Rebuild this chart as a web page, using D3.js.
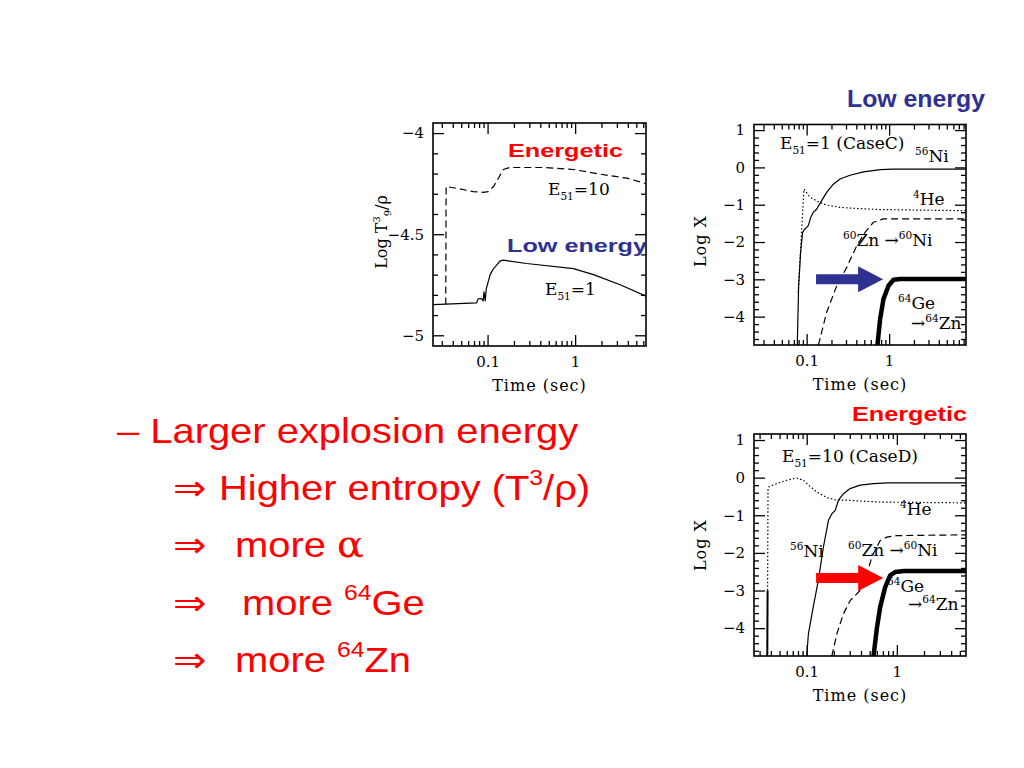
<!DOCTYPE html>
<html><head><meta charset="utf-8">
<script src="https://cdn.jsdelivr.net/npm/d3@7"></script>
<style>body{margin:0;background:#fff}</style>
</head><body><svg id="c" width="1024" height="768"></svg>
<script>
// ---------- tick data ----------
const xMajorTicks = [0.1, 1];
const xMajorLabels = ["0.1", "1"];
const xMinorTicks = [0.02,0.03,0.04,0.05,0.06,0.07,0.08,0.09,0.2,0.3,0.4,0.5,0.6,0.7,0.8,0.9,2,3,4,5,6,7,8,9];
const entropyYMajor = [-5, -4.5, -4];
const entropyYLabels = ["\u22125", "\u22124.5", "\u22124"];
const entropyYMinor = [-4.9,-4.8,-4.7,-4.6,-4.4,-4.3,-4.2,-4.1];
const abundYMajor = [-4, -3, -2, -1, 0, 1];
const abundYLabels = ["\u22124", "\u22123", "\u22122", "\u22121", "0", "1"];
const abundYMinor = [-4.6,-4.4,-4.2,-3.8,-3.6,-3.4,-3.2,-2.8,-2.6,-2.4,-2.2,-1.8,-1.6,-1.4,-1.2,-0.8,-0.6,-0.4,-0.2,0.2,0.4,0.6,0.8];

// ---------- series: [time (s), value] ----------
const entropyE10 = [[0.0333,-4.848],[0.0336,-4.264],[0.048,-4.276],[0.0685,-4.289],[0.089,-4.293],[0.102,-4.289],[0.117,-4.264],[0.133,-4.223],[0.151,-4.18],[0.18,-4.17],[0.434,-4.17],[0.957,-4.18],[1.93,-4.203],[3.9,-4.223],[6.45,-4.25]];
const entropyE1 = [[0.0238,-4.848],[0.0748,-4.84],[0.078,-4.82],[0.085,-4.818],[0.089,-4.83],[0.091,-4.785],[0.094,-4.83],[0.0966,-4.77],[0.107,-4.70],[0.117,-4.67],[0.127,-4.653],[0.138,-4.633],[0.151,-4.628],[0.279,-4.645],[0.957,-4.67],[1.62,-4.70],[3.27,-4.75],[6.45,-4.807]];

const caseC_Ni56 = [[0.077,-4.76],[0.080,-3.17],[0.0845,-2.28],[0.0893,-1.74],[0.0954,-1.65],[0.1047,-1.56],[0.112,-1.34],[0.1205,-1.2],[0.132,-1.12],[0.152,-0.89],[0.175,-0.67],[0.211,-0.45],[0.254,-0.31],[0.336,-0.21],[0.488,-0.12],[0.778,-0.06],[1.13,-0.045],[8.55,-0.045]];
const caseC_He4 = [[0.079,-3.35],[0.0928,-0.58],[0.11,-0.80],[0.145,-0.94],[0.175,-1.01],[0.254,-1.07],[0.405,-1.1],[0.778,-1.13],[8.55,-1.16]];
const caseC_Zn60 = [[0.139,-4.76],[0.175,-3.88],[0.232,-3.17],[0.306,-2.68],[0.405,-2.1],[0.511,-1.74],[0.645,-1.47],[0.853,-1.38],[8.55,-1.38]];
const caseC_Ge64 = [[0.722,-4.76],[0.778,-4.06],[0.854,-3.53],[0.982,-3.17],[1.13,-3.01],[1.36,-2.99],[8.55,-2.99]];

const caseD_HeEarly = [[0.0365,-4.74],[0.0368,-3.0]];
const caseD_He4 = [[0.0368,-3.0],[0.0372,-0.3],[0.0375,-0.25],[0.0464,-0.16],[0.0599,-0.07],[0.0774,-0.01],[0.0919,-0.07],[0.105,-0.2],[0.129,-0.38],[0.167,-0.53],[0.216,-0.6],[0.278,-0.6],[0.653,-0.65],[5.85,-0.67]];
const caseD_Ni56 = [[0.1,-4.74],[0.1044,-4.15],[0.118,-3.44],[0.1345,-2.73],[0.153,-1.85],[0.174,-1.14],[0.19,-0.96],[0.207,-0.87],[0.225,-0.6],[0.255,-0.43],[0.303,-0.29],[0.391,-0.2],[0.551,-0.16],[0.8,-0.14],[5.85,-0.14]];
const caseD_Zn60 = [[0.19,-4.74],[0.216,-4.15],[0.255,-3.62],[0.303,-3.27],[0.391,-3.0],[0.445,-2.73],[0.527,-2.11],[0.575,-1.93],[0.653,-1.67],[0.774,-1.58],[1.0,-1.54],[5.85,-1.52]];
const caseD_Ge64 = [[0.551,-4.74],[0.6,-4.0],[0.653,-3.44],[0.742,-2.91],[0.843,-2.6],[0.958,-2.51],[1.2,-2.48],[5.85,-2.48]];

const arrowCaseC = [[0.13,-3.0],[0.845,-3.0]];
const arrowCaseD = [[0.127,-2.67],[0.705,-2.67]];

// ---------- drawing ----------
const svg = d3.select("#c");
svg.append("rect").attr("width",1024).attr("height",768).attr("fill","#fff");
const SERIF = "DejaVu Serif, Liberation Serif, serif";
const SANS = "Liberation Sans, Arial, sans-serif";
const RED = "#f00", BLUE = "#2e3192";
const LF = 17;

function rich(sel, x, y, parts, size, family, fill, extra) {
  const t = sel.append("text").attr("x",x).attr("y",y).attr("font-size",size)
    .attr("font-family",family).attr("fill",fill||"#000");
  if (extra) extra(t);
  let cur = 0;
  parts.forEach(([s,type]) => {
    const off = type==="sup" ? -0.42*size : type==="sub" ? 0.28*size : 0;
    const ts = t.append("tspan").text(s).attr("dy", off-cur);
    if (type!=="n") ts.attr("font-size", size*0.62);
    cur = off;
  });
  return t;
}

function panel(box, xDom, yDom, yMajor, yLabels, yMinor, series, id) {
  const g = svg.append("g");
  const x = d3.scaleLog().domain(xDom).range([box.l, box.r]);
  const y = d3.scaleLinear().domain(yDom).range([box.b, box.t]);
  const xm = xMinorTicks.filter(v => v>xDom[0] && v<xDom[1]);
  const style = s => { s.select(".domain").remove(); s.selectAll("line").attr("stroke","#000").attr("stroke-width",1.3);
    s.selectAll("text").attr("font-family",SERIF).attr("font-size",15).attr("fill","#000"); };
  g.append("g").attr("transform",`translate(0,${box.b})`).call(d3.axisBottom(x).tickValues(xMajorTicks).tickFormat((d,i)=>xMajorLabels[i]).tickSize(-11).tickPadding(10)).call(style);
  g.append("g").attr("transform",`translate(0,${box.b})`).call(d3.axisBottom(x).tickValues(xm).tickFormat("").tickSize(-5)).call(style);
  g.append("g").attr("transform",`translate(0,${box.t})`).call(d3.axisTop(x).tickValues(xMajorTicks).tickFormat("").tickSize(-11)).call(style);
  g.append("g").attr("transform",`translate(0,${box.t})`).call(d3.axisTop(x).tickValues(xm).tickFormat("").tickSize(-5)).call(style);
  g.append("g").attr("transform",`translate(${box.l},0)`).call(d3.axisLeft(y).tickValues(yMajor).tickFormat((d,i)=>yLabels[i]).tickSize(-11).tickPadding(9)).call(style);
  g.append("g").attr("transform",`translate(${box.l},0)`).call(d3.axisLeft(y).tickValues(yMinor).tickFormat("").tickSize(-5)).call(style);
  g.append("g").attr("transform",`translate(${box.r},0)`).call(d3.axisRight(y).tickValues(yMajor).tickFormat("").tickSize(-11)).call(style);
  g.append("g").attr("transform",`translate(${box.r},0)`).call(d3.axisRight(y).tickValues(yMinor).tickFormat("").tickSize(-5)).call(style);
  svg.append("clipPath").attr("id",id).append("rect").attr("x",box.l).attr("y",box.t).attr("width",box.r-box.l).attr("height",box.b-box.t);
  const line = d3.line().x(d=>x(d[0])).y(d=>y(d[1]));
  const lg = g.append("g").attr("clip-path",`url(#${id})`);
  series.forEach(s => {
    lg.append("path").datum(s.data).attr("d",line).attr("fill","none").attr("stroke","#000")
      .attr("stroke-width",s.w||1.2).attr("stroke-dasharray",s.dash||null).attr("stroke-linejoin","round");
  });
  g.append("rect").attr("x",box.l).attr("y",box.t).attr("width",box.r-box.l).attr("height",box.b-box.t)
    .attr("fill","none").attr("stroke","#000").attr("stroke-width",1.6);
  g.append("text").attr("x",(box.l+box.r)/2).attr("y",box.b+45).attr("text-anchor","middle")
    .attr("font-family",SERIF).attr("font-size",16).attr("letter-spacing",1).text("Time (sec)");
  return {g,x,y};
}

function arrow(g, x, y, pts, color) {
  const x0 = x(pts[0][0]), x1 = x(pts[1][0]), yc = y(pts[0][1]);
  const hb = x1 - 25;
  const p = d3.path();
  p.moveTo(x0, yc-5); p.lineTo(hb, yc-5); p.lineTo(hb, yc-13); p.lineTo(x1, yc);
  p.lineTo(hb, yc+13); p.lineTo(hb, yc+5); p.lineTo(x0, yc+5); p.closePath();
  g.append("path").attr("d",p.toString()).attr("fill",color);
}

// Panel 1: entropy
const P1 = panel({l:433,r:646,t:123,b:346},[0.0238,6.45],[-5.053,-3.95],entropyYMajor,entropyYLabels,entropyYMinor,
  [{data:entropyE1},{data:entropyE10,dash:"7,4"}],"c1");
rich(P1.g, 387, 232, [["Log T","n"],["3","sup"],["9","sub"],["/\u03c1","n"]], 16, SERIF, "#000",
  t=>t.attr("transform","rotate(-90,387,232)").attr("text-anchor","middle"));
P1.g.append("text").attr("x",508).attr("y",157).attr("font-family",SANS).attr("font-weight","bold")
  .attr("font-size",19).attr("fill",RED).attr("textLength",115).attr("lengthAdjust","spacingAndGlyphs").text("Energetic");
P1.g.append("text").attr("x",507).attr("y",252).attr("font-family",SANS).attr("font-weight","bold")
  .attr("font-size",19).attr("fill",BLUE).attr("textLength",140).attr("lengthAdjust","spacingAndGlyphs").text("Low energy");
rich(P1.g, 548, 195, [["E","n"],["51","sub"],["=10","n"]], LF, SERIF);
rich(P1.g, 545, 295, [["E","n"],["51","sub"],["=1","n"]], LF, SERIF);

// Panel 2: Case C
const P2 = panel({l:754,r:966,t:124.5,b:345},[0.023,8.55],[-4.76,1.15],abundYMajor,abundYLabels,abundYMinor,
  [{data:caseC_Ni56},{data:caseC_He4,dash:"1.5,2.2"},{data:caseC_Zn60,dash:"7,4"},{data:caseC_Ge64,w:4.5}],"c2");
P2.g.append("text").attr("x",706).attr("y",241).attr("transform","rotate(-90,706,241)").attr("text-anchor","middle")
  .attr("font-family",SERIF).attr("font-size",16).attr("letter-spacing",1).text("Log X");
rich(P2.g, 780, 149, [["E","n"],["51","sub"],["=1 (CaseC)","n"]], LF, SERIF);
rich(P2.g, 915, 162, [["56","sup"],["Ni","n"]], LF, SERIF);
rich(P2.g, 913, 205, [["4","sup"],["He","n"]], LF, SERIF);
rich(P2.g, 843, 246, [["60","sup"],["Zn \u2192","n"],["60","sup"],["Ni","n"]], LF, SERIF);
rich(P2.g, 898, 309, [["64","sup"],["Ge","n"]], LF, SERIF);
rich(P2.g, 911, 329, [["\u2192","n"],["64","sup"],["Zn","n"]], LF, SERIF);
arrow(P2.g, P2.x, P2.y, arrowCaseC, BLUE);
svg.append("text").attr("x",847).attr("y",107).attr("font-family",SANS).attr("font-weight","bold")
  .attr("font-size",23).attr("fill",BLUE).attr("textLength",138).attr("lengthAdjust","spacingAndGlyphs").text("Low energy");

// Panel 3: Case D
const P3 = panel({l:754,r:966,t:434,b:656},[0.026,5.85],[-4.74,1.16],abundYMajor,abundYLabels,abundYMinor,
  [{data:caseD_HeEarly,w:2},{data:caseD_Ni56},{data:caseD_He4,dash:"1.5,2.2"},{data:caseD_Zn60,dash:"7,4"},{data:caseD_Ge64,w:4.5}],"c3");
P3.g.append("text").attr("x",706).attr("y",545).attr("transform","rotate(-90,706,545)").attr("text-anchor","middle")
  .attr("font-family",SERIF).attr("font-size",16).attr("letter-spacing",1).text("Log X");
rich(P3.g, 782, 462, [["E","n"],["51","sub"],["=10 (CaseD)","n"]], LF, SERIF);
rich(P3.g, 900, 515, [["4","sup"],["He","n"]], LF, SERIF);
rich(P3.g, 790, 557, [["56","sup"],["Ni","n"]], LF, SERIF);
rich(P3.g, 848, 556, [["60","sup"],["Zn \u2192","n"],["60","sup"],["Ni","n"]], LF, SERIF);
rich(P3.g, 887, 592, [["64","sup"],["Ge","n"]], LF, SERIF);
rich(P3.g, 908, 610, [["\u2192","n"],["64","sup"],["Zn","n"]], LF, SERIF);
arrow(P3.g, P3.x, P3.y, arrowCaseD, RED);
svg.append("text").attr("x",852).attr("y",421).attr("font-family",SANS).attr("font-weight","bold")
  .attr("font-size",20).attr("fill",RED).attr("textLength",115).attr("lengthAdjust","spacingAndGlyphs").text("Energetic");

// Left bullet text (horizontally stretched like the slide)
const FS = 35, SX = 1.14;
function line(x, y) { return svg.append("g").attr("transform",`translate(${x},${y}) scale(${SX},1)`); }
rich(line(117,443), 0, 0, [["\u2013 Larger explosion energy","n"]], FS, SANS, RED);
[500, 557, 615, 672].forEach(yy => line(173,yy).append("text").attr("x",0).attr("y",0)
  .attr("font-family","DejaVu Sans, sans-serif").attr("font-size",FS).attr("fill",RED).text("\u21d2"));
rich(line(219,500), 0, 0, [["Higher entropy (T","n"],["3","sup"],["/\u03c1)","n"]], FS, SANS, RED);
const t3 = line(235,557).append("text").attr("x",0).attr("y",0).attr("font-family",SANS).attr("font-size",FS).attr("fill",RED);
t3.append("tspan").text("more ");
t3.append("tspan").attr("font-family","DejaVu Serif, serif").text("\u03b1");
rich(line(242,615), 0, 0, [["more ","n"],["64","sup"],["Ge","n"]], FS, SANS, RED);
rich(line(235,672), 0, 0, [["more ","n"],["64","sup"],["Zn","n"]], FS, SANS, RED);
</script></body></html>
